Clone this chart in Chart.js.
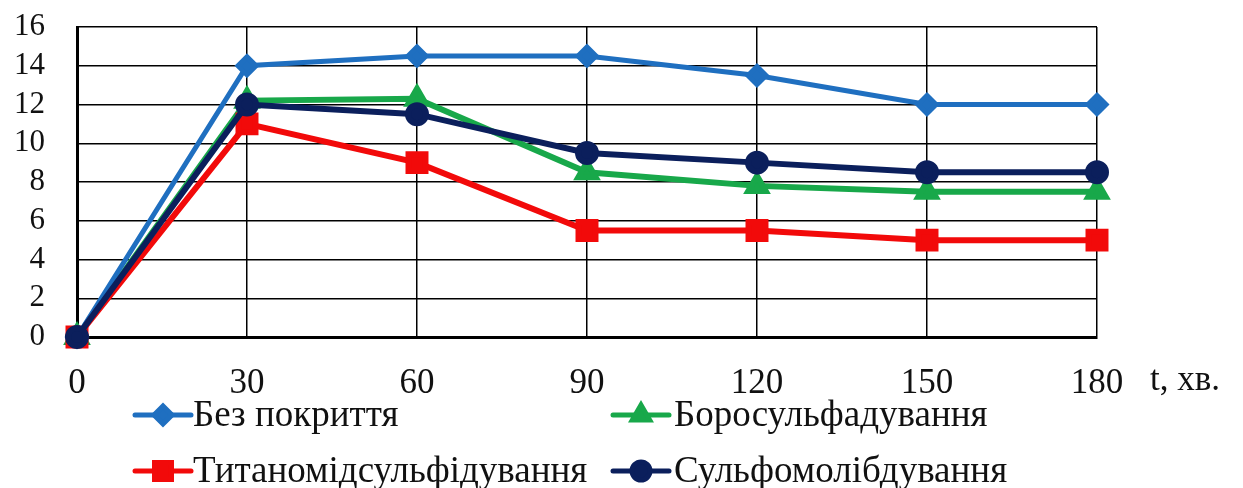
<!DOCTYPE html>
<html>
<head>
<meta charset="utf-8">
<script src="https://cdn.jsdelivr.net/npm/chart.js@4/dist/chart.umd.min.js"></script>
<style>
  html, body { margin: 0; padding: 0; background: #fff; }
  #wrap { width: 1243px; height: 488px; }
</style>
</head>
<body>
<div id="wrap"><canvas id="myChart" width="1243" height="488"></canvas></div>
<script>
"use strict";

// час, хв
const times = [0, 30, 60, 90, 120, 150, 180];
const yTicks = [0, 2, 4, 6, 8, 10, 12, 14, 16];

const bezPokryttia = [0, 14, 14.5, 14.5, 13.5, 12, 12];
const borosulfaduvannia = [0, 12.2, 12.3, 8.5, 7.8, 7.5, 7.5];
const tytanomidsulfiduvannia = [0, 11, 9, 5.5, 5.5, 5, 5];
const sulfomolibduvannia = [0, 12, 11.5, 9.5, 9, 8.5, 8.5];

const seriesNames = ["Без покриття", "Боросульфадування", "Титаномідсульфідування", "Сульфомолібдування"];
const xUnit = "t, хв.";

const serif = "'Liberation Serif', 'Times New Roman', serif";

function toPoints(values){
    return values.map((v, i) => ({x: times[i], y: v}));
}

const ctx = document.getElementById('myChart');

// легенда в 2 рядки, як на рисунку
const legendPos = [
    {x: 135, y: 415, tx: 193},
    {x: 613, y: 415, tx: 674},
    {x: 135, y: 471, tx: 193},
    {x: 613, y: 471, tx: 674}
];

const legendPlugin = {
    id: 'legendTwoRows',
    afterDraw(chart){
        const c = chart.ctx;
        c.save();
        chart.data.datasets.forEach((ds, i) => {
            let p = legendPos[i];
            c.strokeStyle = ds.borderColor;
            c.lineWidth = 5;
            c.lineCap = 'round';
            c.beginPath();
            c.moveTo(p.x, p.y);
            c.lineTo(p.x + 56, p.y);
            c.stroke();
            c.fillStyle = ds.pointBackgroundColor;
            c.strokeStyle = ds.pointBackgroundColor;
            Chart.helpers.drawPoint(c, {
                pointStyle: ds.pointStyle,
                radius: ds.pointRadius,
                rotation: 0,
                borderWidth: 1
            }, p.x + 28, p.y);
            c.fillStyle = "#111";
            c.font = "37px " + serif;
            c.textAlign = "left";
            c.textBaseline = "middle";
            c.fillText(ds.label, p.tx, p.y + 1);
        });
        // підпис осі x
        c.font = "35px " + serif;
        c.fillStyle = "#111";
        c.textAlign = "left";
        c.textBaseline = "middle";
        c.fillText(xUnit, 1150, 381);
        c.restore();
    }
};

let chart = new Chart(ctx, {
    type: 'line',
    data: {
        datasets: [{
            label: seriesNames[0],
            data: toPoints(bezPokryttia),
            borderColor: "#1f6fc0",
            pointBackgroundColor: "#1f6fc0",
            pointBorderColor: "#1f6fc0",
            pointStyle: 'rectRot',
            pointRadius: 9,
            borderWidth: 5,
            order: 1
        }, {
            label: seriesNames[1],
            data: toPoints(borosulfaduvannia),
            borderColor: "#18a84a",
            pointBackgroundColor: "#18a84a",
            pointBorderColor: "#18a84a",
            pointStyle: 'triangle',
            pointRadius: 10,
            borderWidth: 6,
            order: 3
        }, {
            label: seriesNames[2],
            data: toPoints(tytanomidsulfiduvannia),
            borderColor: "#f20a0a",
            pointBackgroundColor: "#f20a0a",
            pointBorderColor: "#f20a0a",
            pointStyle: 'rect',
            pointRadius: 12,
            borderWidth: 6,
            order: 2
        }, {
            label: seriesNames[3],
            data: toPoints(sulfomolibduvannia),
            borderColor: "#0b1f5c",
            pointBackgroundColor: "#0b1f5c",
            pointBorderColor: "#0b1f5c",
            pointStyle: 'circle',
            pointRadius: 9,
            borderWidth: 6,
            order: 0
        }]
    },
    options: {
        responsive: false,
        animation: false,
        clip: false,
        layout: {padding: {top: 27, right: 146, left: 0, bottom: 0}},
        plugins: {
            legend: {display: false},
            tooltip: {enabled: false}
        },
        elements: {line: {tension: 0}},
        scales: {
            x: {
                type: 'linear',
                min: 0,
                max: 180,
                afterBuildTicks: s => { s.ticks = times.map(v => ({value: v})); },
                afterFit: s => { s.height = 151; s.paddingLeft = 0; s.paddingRight = 0; },
                grid: {color: "#000", lineWidth: 1.5, drawTicks: false},
                border: {color: "#000", width: 3},
                ticks: {
                    color: "#111",
                    padding: 26,
                    maxRotation: 0,
                    autoSkip: false,
                    font: {family: serif, size: 35}
                }
            },
            y: {
                min: 0,
                max: 16,
                afterBuildTicks: s => { s.ticks = yTicks.map(v => ({value: v})); },
                afterFit: s => { s.width = 77; s.paddingTop = 0; s.paddingBottom = 0; },
                grid: {color: "#000", lineWidth: 1.5, drawTicks: false},
                border: {color: "#000", width: 3},
                ticks: {
                    color: "#111",
                    padding: 32,
                    autoSkip: false,
                    font: {family: serif, size: 31}
                }
            }
        }
    },
    plugins: [legendPlugin]
});
</script>
</body>
</html>
